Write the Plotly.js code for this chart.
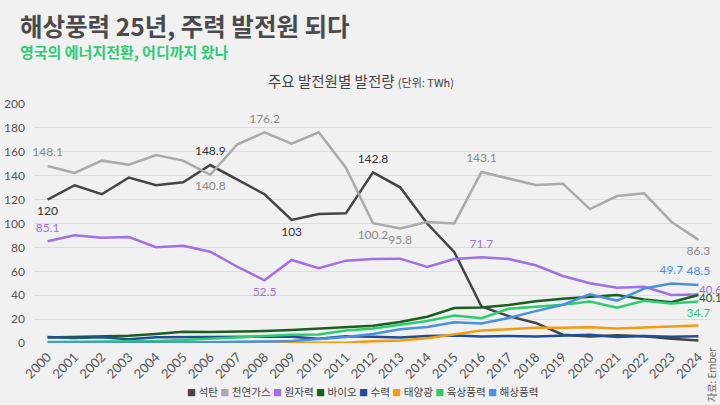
<!DOCTYPE html>
<html>
<head>
<meta charset="utf-8">
<script src="https://cdn.plot.ly/plotly-3.0.1.min.js"></script>
<style>
html,body{margin:0;padding:0;background:#f1f1f1;}
#chart{width:720px;height:405px;}
</style>
</head>
<body>
<div id="chart"></div>
<script>
// ---- data (TWh) ----
const years = [2000,2001,2002,2003,2004,2005,2006,2007,2008,2009,2010,2011,2012,2013,2014,2015,2016,2017,2018,2019,2020,2021,2022,2023,2024];
const seriesNames = ['석탄','천연가스','원자력','바이오','수력','태양광','육상풍력','해상풍력'];
const coal     = [120,132,124.5,138.5,132,134.5,148.9,137,124.5,103,108,108.5,142.8,130.3,100,76,30.5,22.5,16.8,6.9,5.5,6.5,5.6,3.5,2.0];
const gas      = [148.1,142.3,152.6,149.2,157.3,152.6,140.8,166.3,176.2,166.8,176.3,146.7,100.2,95.8,101.3,100.1,143.1,137.8,132.2,133.3,112.1,123,125.3,101.5,86.3];
const nuclear  = [85.1,90.1,88.1,88.7,80.1,81.4,76.4,63.8,52.5,69.5,62.5,68.9,70.3,70.6,63.6,70.3,71.7,70.3,65,56.1,50,46.3,47.1,40.2,40.6];
const bio      = [4.5,4.8,5.3,6.0,7.5,9.5,9.3,9.5,10.0,10.8,12.0,13.0,14.5,17.5,22.0,29.3,29.8,31.8,35.0,37.0,38.8,40.2,36.5,34.2,40.1];
const hydro    = [5.1,4.1,4.8,3.2,4.8,4.9,4.6,5.1,5.1,5.3,3.6,5.7,5.3,4.7,5.9,6.3,5.4,5.9,5.5,5.9,6.9,5.0,5.8,5.3,5.6];
const solar    = [0,0,0,0,0,0,0,0,0,0,0,0.2,1.4,2.0,4.0,7.5,10.4,11.5,12.7,12.7,13.2,12.1,13.3,13.9,14.7];
const onshore  = [0.9,1.0,1.2,1.2,1.7,2.5,3.6,4.5,5.8,7.0,7.2,10.4,12.1,15.5,18.4,22.9,20.8,28.7,30.4,32.0,34.7,29.6,35.3,33.0,34.7];
const offshore = [0,0,0,0.2,0.2,0.4,0.7,0.8,1.3,1.7,3.1,5.1,7.6,11.5,13.4,17.4,16.4,20.9,26.7,32.0,40.7,35.5,45.6,49.7,48.5];
const seriesValues = [coal,gas,nuclear,bio,hydro,solar,onshore,offshore];

// ---- styles ----
const lineColors  = ['#444444','#aaaaaa','#a070e8','#1b5e20','#1f4e96','#f39c12','#2ecc71','#4a90e2'];
const labelColors = ['#333333','#8a8a8a','#a070e8','#1b5e20','#1f4e96','#f39c12','#2ecc71','#4a90e2'];
// labelled points: year index -> text position
const labelSpecs = [
  {0:'bottom center',6:'top center',9:'bottom center',12:'top center'},
  {0:'top center',6:'bottom center',8:'top center',12:'bottom center',13:'bottom center',16:'top center',24:'bottom center'},
  {0:'top center',8:'bottom center',16:'top center'},
  {},
  {},
  {},
  {24:'bottom center'},
  {23:'top center',24:'top center'}
];
// end labels placed right of last point: series index -> vertical shift (px)
const endLabelSpecs = {2: 5, 3: -2};

const numFont = 'Lato, "Noto Sans CJK KR", sans-serif';
const krFont = '"Noto Sans CJK KR", "Noto Sans", sans-serif';

const traces = seriesValues.map((vals, i) => {
  const spec = labelSpecs[i];
  const text = vals.map((v, k) => (k in spec) ? String(v) : '');
  const pos = vals.map((v, k) => (k in spec) ? spec[k] : 'top center');
  return {
    x: years, y: vals, name: seriesNames[i], type: 'scatter',
    mode: 'lines+markers+text', text: text, textposition: pos,
    textfont: {family: numFont, size: 12, color: labelColors[i]},
    line: {color: lineColors[i], width: 2.5},
    marker: {size: 9, opacity: 0, color: lineColors[i]},
    cliponaxis: false, hoverinfo: 'skip', showlegend: false
  };
});

const last = years.length - 1;
const endLabels = Object.keys(endLabelSpecs).map(k => {
  const i = +k;
  return {
    xref: 'x', yref: 'y', x: years[last], y: seriesValues[i][last],
    text: String(seriesValues[i][last]), showarrow: false,
    xanchor: 'left', yanchor: 'middle', xshift: -1, yshift: endLabelSpecs[k],
    font: {family: numFont, size: 11.5, color: labelColors[i]}
  };
});

// legend as text built from names/colours
const legendText = seriesNames.map((n, i) =>
  '<span style="color:' + lineColors[i] + ';font-size:9px">■</span> ' + n
).join(' ');

const layout = {
  width: 720, height: 405,
  margin: {l: 34, r: 8, t: 104, b: 62},
  paper_bgcolor: '#f1f1f1', plot_bgcolor: '#f1f1f1',
  showlegend: false,
  font: {family: numFont, color: '#555'},
  xaxis: {
    range: [1999.5, 2024.5], tickmode: 'linear', tick0: 2000, dtick: 1,
    tickangle: -45, showgrid: false, zeroline: false, showline: false,
    ticks: '', tickfont: {family: numFont, size: 13, color: '#555'},
    ticklabelstandoff: 3, fixedrange: true
  },
  yaxis: {
    range: [0, 200], tickmode: 'linear', tick0: 0, dtick: 20,
    gridcolor: '#dddddd', gridwidth: 1, zeroline: false, showline: false,
    ticks: '', tickfont: {family: numFont, size: 12, color: '#555'},
    ticklabelstandoff: 8, fixedrange: true
  },
  annotations: [
    {xref:'paper', yref:'paper', x:-0.0236, y:1.3305, xanchor:'left', yanchor:'middle', showarrow:false,
     text:'해상풍력 25년, 주력 발전원 되다', font:{family:krFont, size:24.5, color:'#4a4a4a', weight:'bold'}},
    {xref:'paper', yref:'paper', x:-0.0236, y:1.22, xanchor:'left', yanchor:'middle', showarrow:false,
     text:'영국의 에너지전환, 어디까지 왔나', font:{family:krFont, size:15, color:'#2ecc71', weight:'bold'}},
    {xref:'paper', yref:'paper', x:0.482, y:1.100, xanchor:'center', yanchor:'middle', showarrow:false,
     text:'주요 발전원별 발전량 <span style="font-size:11px">(단위: TWh)</span>', font:{family:krFont, size:14.5, color:'#444'}},
    {xref:'paper', yref:'paper', x:0.484, y:-0.204, xanchor:'center', yanchor:'middle', showarrow:false,
     text: legendText, font:{family:krFont, size:10.6, color:'#444'}},
    {xref:'paper', yref:'paper', x:0.9985, y:-0.134, xanchor:'center', yanchor:'middle', showarrow:false, textangle:-90,
     text:'자료: Ember', font:{family:krFont, size:10, color:'#666'}}
  ].concat(endLabels)
};

Plotly.newPlot('chart', traces, layout, {displayModeBar: false, staticPlot: true});
</script>
</body>
</html>
